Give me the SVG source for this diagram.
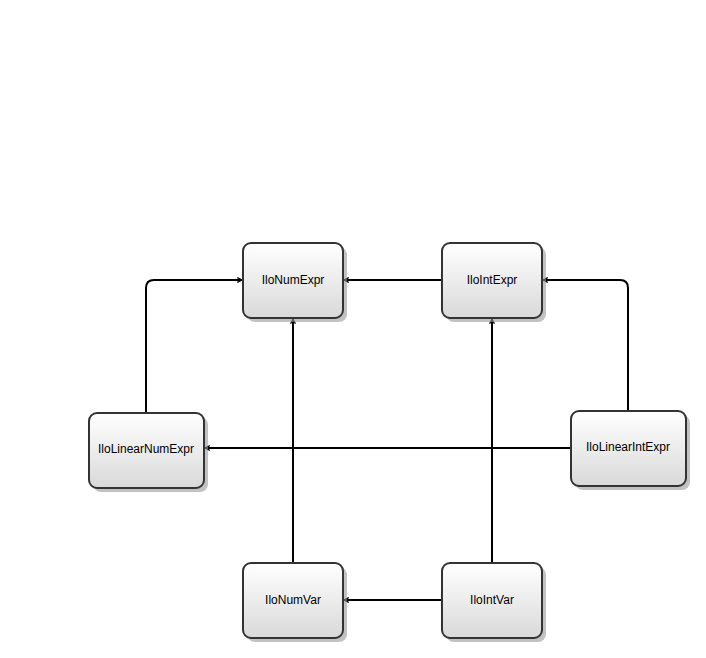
<svg xmlns="http://www.w3.org/2000/svg" width="706" height="658" viewBox="0 0 706 658">
<style>
.n rect.b{fill:url(#g);stroke:#333;stroke-width:2}
.n rect.s{fill:#999;opacity:0.6}
.n text{font-family:"Liberation Sans",Arial,sans-serif;font-size:12px;fill:#000;text-anchor:middle;dominant-baseline:central}
.c path{fill:none;stroke:#000;stroke-width:2;marker-end:url(#a)}
</style>
<defs>
<linearGradient id="g" x1="0" y1="0" x2="0" y2="1"><stop offset="0" stop-color="#fff"/><stop offset="1" stop-color="#d9d9d9"/></linearGradient>
<marker id="a" viewBox="0 0 10 10" refX="9" refY="5" markerWidth="6" markerHeight="6" orient="auto" markerUnits="userSpaceOnUse"><path d="M1,1 L9,5 L1,9" fill="none" stroke="#000" stroke-width="2"/></marker>
</defs>
<g class="c">
<path d="M442,280 H344"/>
<path d="M146,413 V288 Q146,280 154,280 H242"/>
<path d="M628,411 V288 Q628,280 620,280 H543"/>
<path d="M571,448 H205"/>
<path d="M293,563 V319"/>
<path d="M492,563 V319"/>
<path d="M442,600 H344"/>
</g>
<g id="IloNumExpr" class="n"><rect class="s" x="247" y="247" width="100" height="75" rx="8"/><rect class="b" x="243" y="243" width="100" height="75" rx="8"/><text x="293" y="280">IloNumExpr</text></g>
<g id="IloIntExpr" class="n"><rect class="s" x="446" y="247" width="100" height="75" rx="8"/><rect class="b" x="442" y="243" width="100" height="75" rx="8"/><text x="492" y="280">IloIntExpr</text></g>
<g id="IloLinearNumExpr" class="n"><rect class="s" x="93" y="417" width="115" height="75" rx="8"/><rect class="b" x="89" y="413" width="115" height="75" rx="8"/><text x="146" y="449">IloLinearNumExpr</text></g>
<g id="IloLinearIntExpr" class="n"><rect class="s" x="575" y="415" width="115" height="75" rx="8"/><rect class="b" x="571" y="411" width="115" height="75" rx="8"/><text x="628" y="447">IloLinearIntExpr</text></g>
<g id="IloNumVar" class="n"><rect class="s" x="247" y="567" width="100" height="75" rx="8"/><rect class="b" x="243" y="563" width="100" height="75" rx="8"/><text x="293" y="600">IloNumVar</text></g>
<g id="IloIntVar" class="n"><rect class="s" x="446" y="567" width="100" height="75" rx="8"/><rect class="b" x="442" y="563" width="100" height="75" rx="8"/><text x="492" y="600">IloIntVar</text></g>
</svg>
